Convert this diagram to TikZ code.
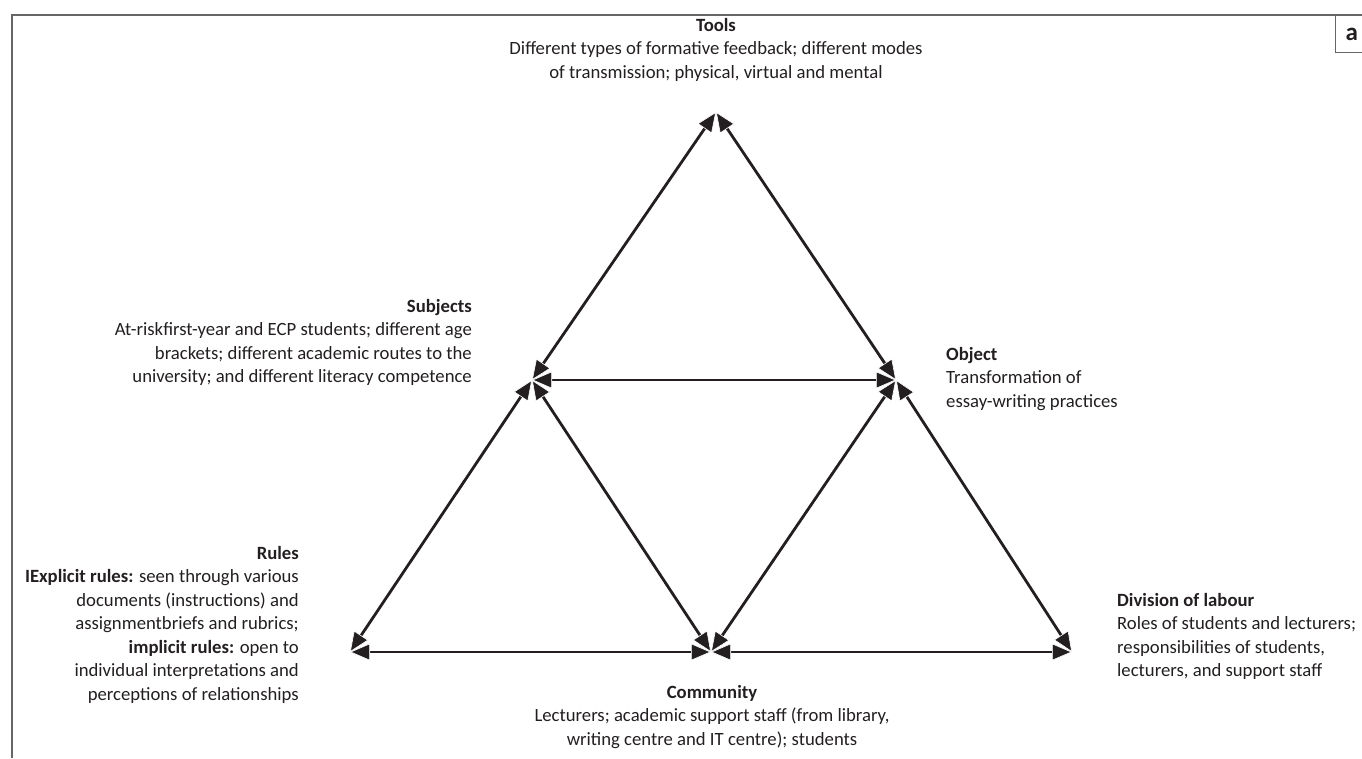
\documentclass[tikz,border=0pt]{standalone}
\usepackage{fontspec}
\setmainfont{Carlito}
\usetikzlibrary{arrows.meta}
\definecolor{framegray}{HTML}{666666}
\definecolor{txt}{HTML}{231F20}
\begin{document}
\begin{tikzpicture}[x=1pt,y=-1pt,
  lbl/.style={font=\fontsize{18.7}{23.5}\selectfont, inner sep=0pt, text=txt},
  link/.style={line width=2.8pt, draw=txt, {Triangle[length=20pt,width=17pt,color=white,fill=txt,line width=0.6pt]}-{Triangle[length=20pt,width=17pt,color=white,fill=txt,line width=0.6pt]}},
  frameline/.style={draw=framegray, line width=1.4pt}]
\useasboundingbox (0,0) rectangle (1362,758);
\draw[frameline] (12,758) -- (12,15) -- (1362,15);
\node[frameline, draw, anchor=north west, minimum width=32pt, minimum height=37pt,
  inner sep=0pt, font=\fontsize{25}{25}\selectfont\bfseries, text=txt] (a) at (1335,15) {a};
\coordinate (T) at (716,112);
\coordinate (S) at (532,380);
\coordinate (O) at (896,380);
\coordinate (R) at (350,652);
\coordinate (C) at (711,652);
\coordinate (D) at (1072,652);
\draw[link] (S) -- (T);
\draw[link] (O) -- (T);
\draw[link] (S) -- (O);
\draw[link] (R) -- (S);
\draw[link] (C) -- (S);
\draw[link] (C) -- (O);
\draw[link] (D) -- (O);
\draw[link] (R) -- (C);
\draw[link] (C) -- (D);
\node[lbl, align=center, anchor=north] (tools) at (716,18)
  {\textbf{Tools}\\Different types of formative feedback; different modes\\of transmission; physical, virtual and mental};
\node[lbl, align=right, anchor=north east] (subjects) at (472,299)
  {\textbf{Subjects}\\At-riskfirst-year and ECP students; different age\\brackets; different academic routes to the\\university; and different literacy competence};
\node[lbl, align=left, anchor=north west] (object) at (946,347)
  {\textbf{Object}\\Transformation of\\essay-writing practices};
\node[lbl, align=right, anchor=north east] (rules) at (299,546)
  {\textbf{Rules}\\\textbf{IExplicit rules:} seen through various\\documents (instructions) and\\assignmentbriefs and rubrics;\\\textbf{implicit rules:} open to\\individual interpretations and\\perceptions of relationships};
\node[lbl, align=left, anchor=north west] (division) at (1117,593)
  {\textbf{Division of labour}\\Roles of students and lecturers;\\responsibilities of students,\\lecturers, and support staff};
\node[lbl, align=center, anchor=north] (community) at (712,685)
  {\textbf{Community}\\Lecturers; academic support staff (from library,\\writing centre and IT centre); students};
\end{tikzpicture}
\end{document}
